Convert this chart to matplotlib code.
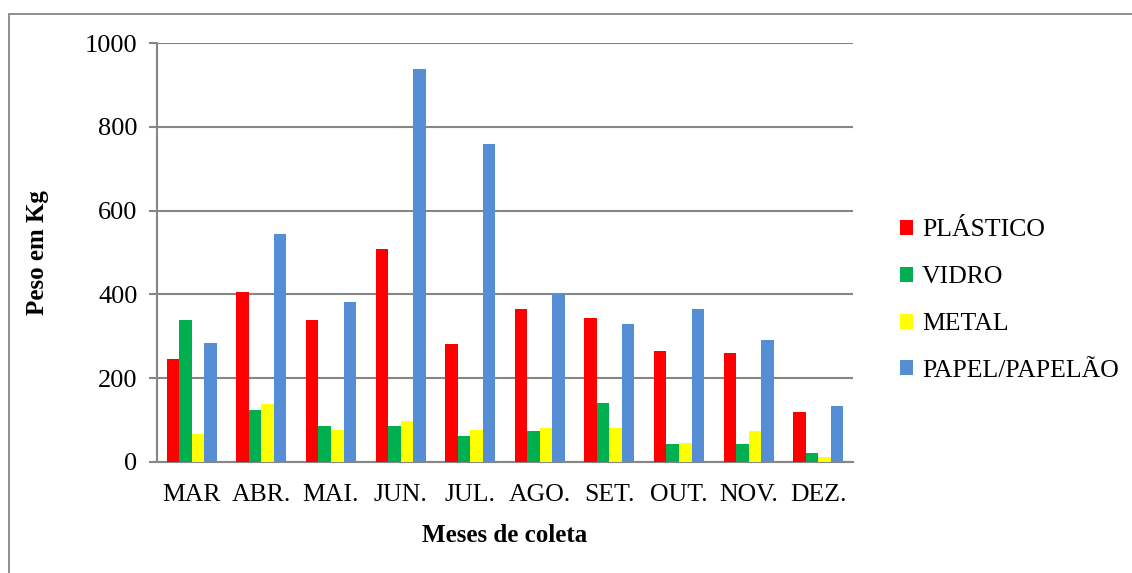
import numpy as np
import matplotlib.pyplot as plt
from matplotlib.patches import Rectangle

months = ["MAR", "ABR.", "MAI.", "JUN.", "JUL.", "AGO.", "SET.", "OUT.", "NOV.", "DEZ."]
plastico = [247, 406, 338, 508, 282, 366, 343, 265, 260, 119]
vidro = [338, 123, 86, 86, 61, 73, 140, 42, 42, 21]
metal = [68, 139, 76, 98, 76, 80, 82, 46, 74, 11]
papel = [283, 544, 382, 938, 759, 401, 329, 366, 290, 134]

series = [
    ("PLÁSTICO", plastico, "#FF0000"),
    ("VIDRO", vidro, "#00B050"),
    ("METAL", metal, "#FFFF00"),
    ("PAPEL/PAPELÃO", papel, "#558ED5"),
]

plt.rcParams["font.family"] = ["Liberation Serif", "DejaVu Serif"]

fig = plt.figure(figsize=(11.32, 5.73), dpi=100)
ax = fig.add_axes([157 / 1132, 1 - 462 / 573, 696 / 1132, 419 / 573])

# outer chart border (runs off the right and bottom edges)
fig.patches.append(Rectangle((9 / 1132, -0.1), 1.2, 1 - 14 / 573 + 0.1,
                             transform=fig.transFigure, fill=False,
                             edgecolor="#868686", linewidth=1.3))

x = np.arange(len(months))
w = 0.18
for i, (name, vals, col) in enumerate(series):
    ax.bar(x + (i - 1.5) * w, vals, w, color=col, label=name, zorder=3)

ax.set_xlim(-0.5, len(months) - 0.5)
ax.set_ylim(0, 1000)
ax.set_yticks(range(0, 1001, 200))
ax.set_xticks(x)
ax.set_xticklabels(months)
ax.yaxis.grid(True, color="#868686", linewidth=1.5, zorder=0)
ax.set_axisbelow(True)
for s in ["top", "right"]:
    ax.spines[s].set_visible(False)
for s in ["left", "bottom"]:
    ax.spines[s].set_color("#868686")
    ax.spines[s].set_linewidth(1.5)
ax.tick_params(axis="x", length=0, pad=16, labelsize=18.5)
ax.tick_params(axis="y", length=6, width=1.5, color="#868686", pad=8, labelsize=19)

ax.set_xlabel("Meses de coleta", fontsize=18, fontweight="bold", labelpad=13)
ax.set_ylabel("Peso em Kg", fontsize=18, fontweight="bold", labelpad=26)

ax.legend(loc="center left", bbox_to_anchor=(1.034, 0.385), frameon=False,
          fontsize=18.5, handlelength=0.52, handleheight=0.52,
          handletextpad=0.35, labelspacing=0.97)

fig.savefig("out.png", dpi=100)
